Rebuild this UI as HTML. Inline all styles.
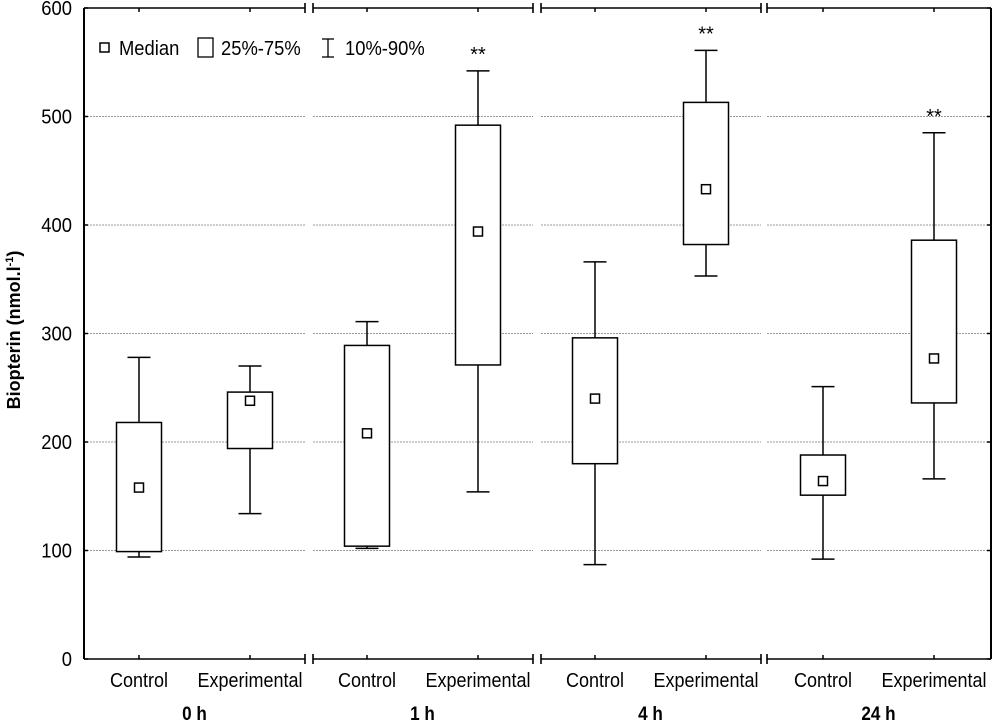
<!DOCTYPE html>
<html><head><meta charset="utf-8"><style>
body{margin:0;background:#fff;}
svg{display:block;font-family:"Liberation Sans",sans-serif;}
</style></head><body>
<svg id="chart" width="1000" height="720"></svg>
<script>
const groups=["0 h","1 h","4 h","24 h"];
const categories=["Control","Experimental"];
const p10=[[94,134],[102,154],[87,353],[92,166]];
const q1=[[99,194],[104,271],[180,382],[151,236]];
const med=[[158,238],[208,394],[240,433],[164,277]];
const q3=[[218,246],[289,492],[296,513],[188,386]];
const p90=[[278,270],[311,542],[366,561],[251,485]];
const stars=[[false,false],[false,true],[false,true],[false,true]];
const yTicks=[0,100,200,300,400,500,600];

const NS="http://www.w3.org/2000/svg";
const svg=document.getElementById('chart');
const L=84,R=991,T=8,B=659;
const y=v=>B-(v/600)*(B-T);
const xc=(g,c)=>139+g*228+c*111;
function mk(t,a,p){const e=document.createElementNS(NS,t);for(const k in a)e.setAttribute(k,a[k]);(p||svg).appendChild(e);return e;}

yTicks.forEach(v=>{if(v===0||v===600)return;
  let segs=[[L,305],[313,533],[541,761],[767,R]];
  segs.forEach(s=>{const l=mk('line',{x1:s[0],x2:s[1],y1:y(v),y2:y(v),stroke:'#999','stroke-width':1,'stroke-dasharray':'2,1'});
  
  });
});
const la=mk('line',{x1:L,x2:L,y1:T,y2:B,stroke:'#000','stroke-width':2});

const ra=mk('line',{x1:R,x2:R,y1:T,y2:B,stroke:'#000','stroke-width':2});

[T,B].forEach(yy=>{
  const segs=[[L,305],[313,533],[541,761],[767,R]];
  segs.forEach((s,i)=>{
    const l=mk('line',{x1:s[0],x2:s[1],y1:yy,y2:yy,stroke:'#000','stroke-width':1.6});
    
    
    if(i>0)mk('line',{x1:s[0],x2:s[0],y1:yy-5,y2:yy+5,stroke:'#000','stroke-width':1.6});
    if(i<3)mk('line',{x1:s[1],x2:s[1],y1:yy-5,y2:yy+5,stroke:'#000','stroke-width':1.6});
  });
});
yTicks.forEach(v=>{
  mk('line',{x1:L,x2:L+4,y1:y(v),y2:y(v),stroke:'#000','stroke-width':1.5});
  mk('line',{x1:R-4,x2:R,y1:y(v),y2:y(v),stroke:'#000','stroke-width':1.5});
  const t=mk('text',{x:72,y:y(v)+7,'text-anchor':'end','font-size':20,transform:'translate(72,0) scale(0.92,1) translate(-72,0)'});t.textContent=v;
  
});
const yt=mk('text',{transform:'translate(20,330) rotate(-90)','text-anchor':'middle','font-size':18,'font-weight':'bold'});
yt.innerHTML='Biopterin (nmol.l<tspan dy="-7" font-size="11">-1</tspan><tspan dy="7">)</tspan>';


groups.forEach((gn,g)=>{
  categories.forEach((cn,c)=>{
    const x=xc(g,c),hw=22.5,cw=11.5;
    mk('line',{x1:x,x2:x,y1:y(p10[g][c]),y2:y(p90[g][c]),stroke:'#000','stroke-width':1.5});
    mk('line',{x1:x-cw,x2:x+cw,y1:y(p10[g][c]),y2:y(p10[g][c]),stroke:'#000','stroke-width':1.5});
    mk('line',{x1:x-cw,x2:x+cw,y1:y(p90[g][c]),y2:y(p90[g][c]),stroke:'#000','stroke-width':1.5});
    const b=mk('rect',{x:x-hw,y:y(q3[g][c]),width:hw*2,height:y(q1[g][c])-y(q3[g][c]),fill:'#fff',stroke:'#000','stroke-width':1.5});
    
    
    const m=mk('rect',{x:x-4.5,y:y(med[g][c])-4.5,width:9,height:9,fill:'#fff',stroke:'#000','stroke-width':1.5});
    
    mk('line',{x1:x,x2:x,y1:T,y2:T+4,stroke:'#000','stroke-width':1.5});
    mk('line',{x1:x,x2:x,y1:B-4,y2:B,stroke:'#000','stroke-width':1.5});
    if(stars[g][c]){const s=mk('text',{x:x,y:y(p90[g][c])-10,'text-anchor':'middle','font-size':20});s.textContent='**';
      }
    const t=mk('text',{x:x,y:687,'text-anchor':'middle','font-size':20,transform:`translate(${x},0) scale(0.9,1) translate(${-x},0)`});t.textContent=cn;
    
  });
  const gx=(xc(g,0)+xc(g,1))/2;
  const gt=mk('text',{x:gx,y:720,'text-anchor':'middle','font-size':19,'font-weight':'bold',transform:`translate(${gx},0) scale(0.9,1) translate(${-gx},0)`});
  gt.textContent=gn;
});

const lg=mk('g',{});
mk('rect',{x:100,y:43,width:9,height:9,fill:'#fff',stroke:'#000','stroke-width':1.5},lg);
let t1=mk('text',{x:119,y:55,'font-size':20,transform:'translate(119,0) scale(0.92,1) translate(-119,0)'},lg);t1.textContent='Median';
mk('rect',{x:198,y:38,width:15,height:19,fill:'#fff',stroke:'#000','stroke-width':1.3},lg);
let t2=mk('text',{x:221,y:55,'font-size':20,transform:'translate(221,0) scale(0.92,1) translate(-221,0)'},lg);t2.textContent='25%-75%';
mk('line',{x1:328,x2:328,y1:39,y2:57,stroke:'#000','stroke-width':1.3},lg);
mk('line',{x1:322,x2:334,y1:39,y2:39,stroke:'#000','stroke-width':1.3},lg);
mk('line',{x1:322,x2:334,y1:57,y2:57,stroke:'#000','stroke-width':1.3},lg);
let t3=mk('text',{x:345,y:55,'font-size':20,transform:'translate(345,0) scale(0.92,1) translate(-345,0)'},lg);t3.textContent='10%-90%';
</script>
</body></html>
